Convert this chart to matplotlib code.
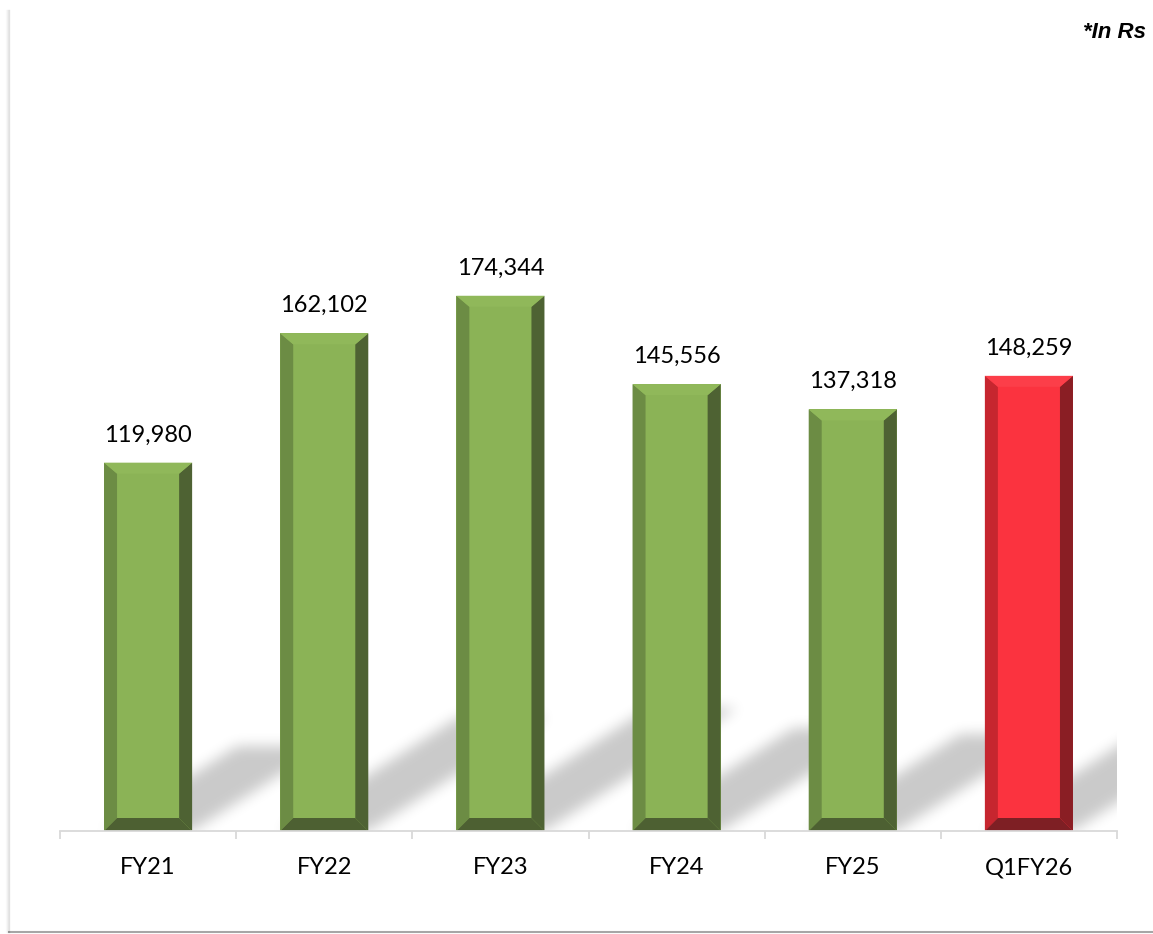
import numpy as np
import matplotlib
matplotlib.use("Agg")
import matplotlib.pyplot as plt
from matplotlib.patches import Polygon
from matplotlib.path import Path
from matplotlib.lines import Line2D

# ---- data ----
categories = ["FY21", "FY22", "FY23", "FY24", "FY25", "Q1FY26"]
values = [119980, 162102, 174344, 145556, 137318, 148259]
highlight = [False, False, False, False, False, True]
unit_note = "*In Rs"

# ---- styling ----
GREEN = dict(face="#8BB356", left="#6C8C44", right="#4E6233", top="#90B85A", bottom="#4D6032")
RED = dict(face="#FB333F", left="#C6262F", right="#8A1E24", top="#FC3E49", bottom="#7E1F24")

W, H, DPI = 1153, 934, 100
fig = plt.figure(figsize=(W / DPI, H / DPI), dpi=DPI)
ax_l, ax_r, ax_b, ax_t = 60, 1117, 831, 217
ax = fig.add_axes([ax_l / W, (H - ax_b) / H, (ax_r - ax_l) / W, (ax_b - ax_t) / H])
YMAX = 200000
n = len(categories)
ax.set_xlim(-0.5, n - 0.5)
ax.set_ylim(0, YMAX)

px_x = (ax_r - ax_l) / n          # pixels per category unit
px_y = (ax_b - ax_t) / YMAX       # pixels per value unit
BW = 0.5
bev = 13
bx, by = bev / px_x, bev / px_y
bt = 11 / px_y

# ---- soft shadows (raster, blurred) ----
nx, ny = ax_r - ax_l, ax_b - ax_t
pad = 40
gx, gy = np.meshgrid(np.arange(-pad, nx + pad) + 0.5, np.arange(-pad, ny + pad) + 0.5)
pts = np.column_stack([gx.ravel(), gy.ravel()])
mask = np.zeros(gx.shape)
sx, sy = 0.36, 0.23
for i, v in enumerate(values):
    xl = (i - BW / 2 + 0.5) * px_x
    xr = (i + BW / 2 + 0.5) * px_x
    h = v * px_y
    poly = Path([(xl, 0), (xr, 0), (xr + sx * h, sy * h), (xl + sx * h, sy * h), (xl, 0)])
    mask = np.maximum(mask, poly.contains_points(pts).reshape(gx.shape).astype(float))


def box_blur(a, r, axis):
    c = np.cumsum(np.pad(a, [(r + 1, r) if k == axis else (0, 0) for k in range(2)], mode="constant"), axis=axis)
    if axis == 0:
        return (c[2 * r + 1:] - c[:-2 * r - 1]) / (2 * r + 1)
    return (c[:, 2 * r + 1:] - c[:, :-2 * r - 1]) / (2 * r + 1)


for _ in range(3):
    mask = box_blur(mask, 6, 0)
    mask = box_blur(mask, 6, 1)
mask = mask[pad:pad + ny, pad:pad + nx]
rgba = np.zeros((ny, nx, 4))
rgba[..., 3] = 0.21 * mask
ax.imshow(rgba, origin="lower", extent=(-0.5, n - 0.5, 0, YMAX), aspect="auto",
          interpolation="bilinear", zorder=1)

# ---- bars with bevels ----
xs = np.arange(n)
face_colors = [(RED if hl else GREEN)["face"] for hl in highlight]
ax.bar(xs, values, width=BW, color=face_colors, zorder=2, linewidth=0)
for i, v in enumerate(values):
    c = RED if highlight[i] else GREEN
    xl, xr = i - BW / 2, i + BW / 2
    ax.add_patch(Polygon([(xl, 0), (xl + bx, by), (xl + bx, v - bt), (xl, v)], closed=True,
                         fc=c["left"], ec="none", zorder=3))
    ax.add_patch(Polygon([(xr, 0), (xr, v), (xr - bx, v - bt), (xr - bx, by)], closed=True,
                         fc=c["right"], ec="none", zorder=3))
    ax.add_patch(Polygon([(xl, v), (xr, v), (xr - bx, v - bt), (xl + bx, v - bt)], closed=True,
                         fc=c["top"], ec="none", zorder=3))
    ax.add_patch(Polygon([(xl, 0), (xr, 0), (xr - bx, by), (xl + bx, by)], closed=True,
                         fc=c["bottom"], ec="none", zorder=3))
    ax.annotate(f"{v:,}", (i, v), xytext=(0, 20), textcoords="offset points",
                ha="center", va="center", fontsize=17, family="Lato", color="black", zorder=5)

# ---- axes styling ----
for s in ["left", "right", "top"]:
    ax.spines[s].set_visible(False)
ax.spines["bottom"].set_color("#D9D9D9")
ax.spines["bottom"].set_linewidth(1.3)
ax.spines["bottom"].set_zorder(4)
ax.set_yticks([])
ax.set_xticks(xs)
ax.set_xticklabels(categories, fontsize=17, family="Lato", color="black")
ax.tick_params(axis="x", which="major", length=0, pad=19)
ax.set_xticks(np.arange(-0.5, n), minor=True)
ax.tick_params(axis="x", which="minor", length=6, width=1.3, color="#D9D9D9")

# ---- note and frame ----
fig.text(1146 / W, 1 - 33 / H, unit_note, ha="right", va="center", fontsize=16,
         family="Liberation Sans", fontweight="bold", fontstyle="italic", color="black")
fig.add_artist(Line2D([9 / W, 1], [1 - 932 / H, 1 - 932 / H], color="#A6A6A6", lw=1.5))
for k, a in enumerate([0.10, 0.07, 0.04, 0.02]):
    fig.add_artist(Line2D([(9 - k) / W, (9 - k) / W], [1 - 932 / H, 1 - 10 / H], color="black",
                          alpha=a, lw=1.0))

fig.savefig("out.png", dpi=DPI)
